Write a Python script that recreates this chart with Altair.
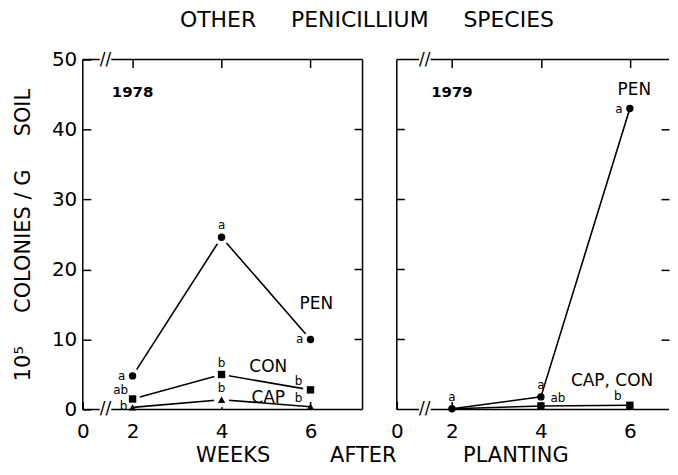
import altair as alt
import pandas as pd

# ---------------- data ----------------
WEEKS = [2, 4, 6]
PEN_1978 = [4.8, 24.6, 10.0]
CON_1978 = [1.5, 5.0, 2.8]
CAP_1978 = [0.3, 1.4, 0.4]
PEN_1979 = [0.1, 1.8, 43.0]
CAPCON_1979 = [0.1, 0.5, 0.6]

X_TICKS = [2, 4, 6]
Y_TICKS = [0, 10, 20, 30, 40, 50]

# significance letters: (panel, series, week, letter, placement)
LETTERS = [
    ("1978", "PEN", 2, "a", "left"),
    ("1978", "PEN", 4, "a", "above"),
    ("1978", "PEN", 6, "a", "left"),
    ("1978", "CON", 2, "ab", "upleft"),
    ("1978", "CON", 4, "b", "above"),
    ("1978", "CON", 6, "b", "upleft"),
    ("1978", "CAP", 2, "b", "lowleft"),
    ("1978", "CAP", 4, "b", "above"),
    ("1978", "CAP", 6, "b", "upleft"),
    ("1979", "PEN", 2, "a", "above"),
    ("1979", "PEN", 4, "a", "above"),
    ("1979", "PEN", 6, "a", "left"),
    ("1979", "CAP, CON", 4, "ab", "upright"),
    ("1979", "CAP, CON", 6, "b", "upleft"),
]

# series labels: (panel, text, week, value)
SERIES_LABELS = [
    ("1978", "PEN", 6.13, 15.1),
    ("1978", "CON", 5.05, 6.1),
    ("1978", "CAP", 5.05, 1.7),
    ("1979", "PEN", 6.1, 45.6),
    ("1979", "CAP, CON", 5.6, 4.0),
]
YEAR_LABELS = [("1978", 2.0, 45.4), ("1979", 2.0, 45.4)]

NB = "\u00a0"
TITLE = "OTHER" + NB * 5 + "PENICILLIUM" + NB * 5 + "SPECIES"
X_TITLE = "WEEKS" + NB * 9 + "AFTER" + NB * 10 + "PLANTING"
Y_TITLE = "10\u2075" + NB * 5 + "COLONIES / G" + NB * 5 + "SOIL"

# ---------------- layout of the two panels on one x scale ----------------
SHIFT = {"1978": 0.0, "1979": 7.18}      # horizontal offset of each panel
PANEL_X = {"1978": (0.88, 7.17), "1979": (0.76, 6.88)}  # visible week range of each panel
X_MIN = PANEL_X["1978"][0]
X_MAX = PANEL_X["1979"][1] + SHIFT["1979"]
TICK_W = 0.18   # inward tick length in week units (~8 px)

SERIES = {
    "1978": {"PEN": PEN_1978, "CON": CON_1978, "CAP": CAP_1978},
    "1979": {"PEN": PEN_1979, "CAP, CON": CAPCON_1979},
}
SHAPE = {"PEN": "circle", "CON": "square", "CAP": "triangle-up", "CAP, CON": "square"}

rows = []
for panel, ser in SERIES.items():
    for name, vals in ser.items():
        for w, v in zip(WEEKS, vals):
            rows.append({"panel": panel, "series": panel + name, "name": name, "week": w,
                         "xp": w + SHIFT[panel], "value": v, "shape": SHAPE[name]})
df = pd.DataFrame(rows)

lookup = {(r["panel"], r["name"], r["week"]): r["value"] for r in rows}
let_df = pd.DataFrame([
    {"xp": w + SHIFT[p], "value": lookup[(p, s, w)], "letter": l, "place": pl}
    for p, s, w, l, pl in LETTERS
])
lab_df = pd.DataFrame([{"text": t, "xp": w + SHIFT[p], "value": v} for p, t, w, v in SERIES_LABELS])
yr_df = pd.DataFrame([{"text": p, "xp": w + SHIFT[p], "value": v} for p, w, v in YEAR_LABELS])

# frame lines of the panels (right panel's far right edge lies off the page)
frame_h, frame_v, inner_ticks, breaks = [], [], [], []
for p, (a, b) in PANEL_X.items():
    x1, x2 = a + SHIFT[p], b + SHIFT[p]
    for yy in (0, 50):
        frame_h.append({"x1": x1, "x2": x2, "y": yy})
        breaks.append({"x1": 1.26 + SHIFT[p], "x2": 1.52 + SHIFT[p], "xm": 1.39 + SHIFT[p],
                       "y": yy, "t": "//"})
    frame_v.append({"x": x1})
frame_v.append({"x": PANEL_X["1978"][1]})
for yy in Y_TICKS[1:-1]:
    e = PANEL_X["1978"][1]
    inner_ticks.append({"x1": e - TICK_W, "x2": e, "y": yy})
    e = PANEL_X["1979"][0] + SHIFT["1979"]
    inner_ticks.append({"x1": e, "x2": e + TICK_W, "y": yy})

FONT = "DejaVu Sans"
TICK = 8
PLACE = {"left": (-11, 0), "upleft": (-12, -9), "lowleft": (-9, -1),
         "above": (0, -12), "upright": (17, -8)}

xs = alt.Scale(domain=[X_MIN, X_MAX], nice=False, zero=False)
ys = alt.Scale(domain=[0, 50], nice=False, zero=False)
X = lambda f: alt.X(f, scale=xs, axis=None)
Y = lambda f: alt.Y(f, scale=ys, axis=None)

bottom_vals = []
for p in ("1978", "1979"):
    bottom_vals += [PANEL_X[p][0] + SHIFT[p]] + [t + SHIFT[p] for t in X_TICKS]
top_vals = [t + SHIFT[p] for p in ("1978", "1979") for t in X_TICKS]
sh = SHIFT["1979"]
label_expr = (f"datum.value < 1.5 || (datum.value > {sh} && datum.value < {sh + 1.5}) ? '0' : "
              f"format(datum.value > {sh} ? datum.value - {sh} : datum.value, '.0f')")

ax_bottom = alt.Axis(orient="bottom", values=bottom_vals, labelExpr=label_expr,
                     domain=False, grid=False, ticks=True, tickSize=TICK, offset=-TICK,
                     labelPadding=12, labelFlush=False, labelOverlap=False,
                     title=X_TITLE, titleFont=FONT, titleFontSize=21, titleFontWeight="normal",
                     titleColor="black", titleX=300, titleY=54, titleAlign="center",
                     titleBaseline="middle")
ax_left = alt.Axis(orient="left", values=Y_TICKS, domain=False, grid=False, ticks=True,
                   tickSize=TICK, offset=-TICK, labelPadding=6, labelFlush=False,
                   labelOverlap=False, title=Y_TITLE, titlePadding=18, titleFont=FONT,
                   titleFontSize=21, titleFontWeight="normal", titleColor="black")
ax_top = alt.Axis(orient="top", values=top_vals, labels=False, domain=False, grid=False,
                  tickSize=TICK, offset=-TICK, title=None)
ax_right = alt.Axis(orient="right", values=Y_TICKS[1:-1], labels=False, domain=False,
                    grid=False, tickSize=TICK, offset=-TICK, title=None)

lines = alt.Chart(df).mark_line(color="black", strokeWidth=1.6).encode(
    x=alt.X("xp:Q", scale=xs, axis=ax_bottom),
    y=alt.Y("value:Q", scale=ys, axis=ax_left),
    detail="series:N",
)
axes2 = alt.Chart(df).mark_point(opacity=0).encode(
    x=alt.X("xp:Q", scale=xs, axis=ax_top),
    y=alt.Y("value:Q", scale=ys, axis=ax_right),
)
fh = alt.Chart(pd.DataFrame(frame_h)).mark_rule(color="black", strokeWidth=1.5).encode(
    x=X("x1:Q"), x2="x2:Q", y=Y("y:Q"))
fv = alt.Chart(pd.DataFrame(frame_v)).mark_rule(color="black", strokeWidth=1.5).encode(
    x=X("x:Q"), y=alt.Y("y0:Q", scale=ys, axis=None), y2="y1:Q"
).transform_calculate(y0="0", y1="50")
it = alt.Chart(pd.DataFrame(inner_ticks)).mark_rule(color="black", strokeWidth=1.5).encode(
    x=X("x1:Q"), x2="x2:Q", y=Y("y:Q"))
brk_df = pd.DataFrame(breaks)
brk_white = alt.Chart(brk_df).mark_rule(color="white", strokeWidth=5).encode(
    x=X("x1:Q"), x2="x2:Q", y=Y("y:Q"))
brk_txt = alt.Chart(brk_df).mark_text(font=FONT, fontSize=17, color="black",
                                      baseline="middle", align="center").encode(
    x=X("xm:Q"), y=Y("y:Q"), text="t:N")

halos = alt.Chart(df[(df.value >= 1) & (df.panel == "1978")]).mark_point(
    filled=True, color="white", opacity=1, size=230, shape="circle").encode(
    x=X("xp:Q"), y=Y("value:Q"))
mk_src = df[~((df.panel == "1979") & (df.name == "CAP, CON") & (df.week == 2))]
markers = alt.Chart(mk_src).mark_point(filled=True, color="black", opacity=1, size=55).encode(
    x=X("xp:Q"), y=Y("value:Q"),
    shape=alt.Shape("shape:N", legend=None,
                    scale=alt.Scale(domain=["circle", "square", "triangle-up"],
                                    range=["circle", "square", "triangle-up"])),
)

layers = [lines, axes2, fh, fv, it, brk_white, brk_txt, halos, markers]
for place, (dx, dy) in PLACE.items():
    sub = let_df[let_df.place == place]
    layers.append(alt.Chart(sub).mark_text(font=FONT, fontSize=12, color="black",
                                          dx=dx, dy=dy, baseline="middle", align="center").encode(
        x=X("xp:Q"), y=Y("value:Q"), text="letter:N"))
layers.append(alt.Chart(lab_df).mark_text(font=FONT, fontSize=17, color="black",
                                          baseline="middle", align="center").encode(
    x=X("xp:Q"), y=Y("value:Q"), text="text:N"))
layers.append(alt.Chart(yr_df).mark_text(font=FONT, fontSize=15, fontWeight="bold", color="black",
                                         baseline="middle", align="center").encode(
    x=X("xp:Q"), y=Y("value:Q"), text="text:N"))

chart = alt.layer(*layers).resolve_axis(x="independent", y="independent").properties(
    width=588, height=351,
    title=alt.TitleParams(TITLE, font=FONT, fontSize=22, fontWeight="normal", anchor="middle",
                          frame="group", dx=-9, color="black", offset=18),
    padding={"left": 4, "top": 0, "right": 0, "bottom": 0},
).configure_view(stroke=None).configure_axis(
    labelFont=FONT, labelFontSize=20, labelColor="black", tickColor="black", tickWidth=1.5,
)

chart.save("out.html", embed_options={"renderer": "svg", "actions": False})
